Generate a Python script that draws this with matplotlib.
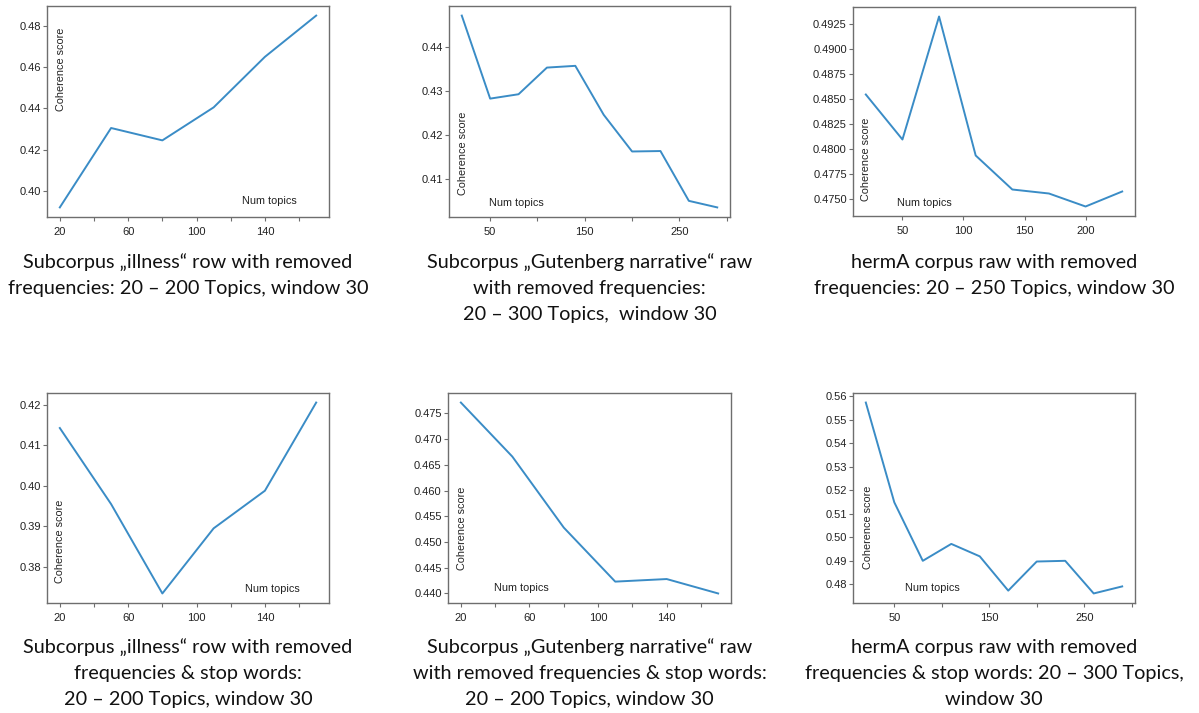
import matplotlib
matplotlib.use("Agg")
import matplotlib.pyplot as plt
from matplotlib.ticker import FormatStrFormatter

# ---------------- data ----------------
x_p1 = [20, 50, 80, 110, 140, 170]
y_p1 = [0.392, 0.4305, 0.4245, 0.4405, 0.465, 0.485]

x_p2 = [20, 50, 80, 110, 140, 170, 200, 230, 260, 290]
y_p2 = [0.4473, 0.4283, 0.4293, 0.4354, 0.4358, 0.4246, 0.4162, 0.4163, 0.4049, 0.4034]

x_p3 = [20, 50, 80, 110, 140, 170, 200, 230]
y_p3 = [0.4854, 0.4809, 0.4932, 0.4793, 0.4759, 0.4755, 0.4742, 0.4757]

x_p4 = [20, 50, 80, 110, 140, 170]
y_p4 = [0.4143, 0.3955, 0.3734, 0.3895, 0.3988, 0.4206]

x_p5 = [20, 50, 80, 110, 140, 170]
y_p5 = [0.4771, 0.4666, 0.4528, 0.4423, 0.4428, 0.4400]

x_p6 = [20, 50, 80, 110, 140, 170, 200, 230, 260, 290]
y_p6 = [0.5573, 0.5148, 0.4899, 0.4971, 0.4918, 0.4772, 0.4896, 0.4899, 0.4760, 0.4790]

yticks_p1 = [0.40, 0.42, 0.44, 0.46, 0.48]
yticks_p2 = [0.41, 0.42, 0.43, 0.44]
yticks_p3 = [0.4750, 0.4775, 0.4800, 0.4825, 0.4850, 0.4875, 0.4900, 0.4925]
yticks_p4 = [0.38, 0.39, 0.40, 0.41, 0.42]
yticks_p5 = [0.440, 0.445, 0.450, 0.455, 0.460, 0.465, 0.470, 0.475]
yticks_p6 = [0.48, 0.49, 0.50, 0.51, 0.52, 0.53, 0.54, 0.55, 0.56]

xmajor_p1 = [20, 60, 100, 140]
xminor_p1 = [40, 80, 120, 160]
xmajor_p2 = [50, 150, 250]
xminor_p2 = [100, 200, 300]
xmajor_p3 = [50, 100, 150, 200]
xminor_p3 = []

captions = [
    ["Subcorpus \u201eillness\u201c row with removed",
     "frequencies: 20 \u2013 200 Topics, window 30"],
    ["Subcorpus \u201eGutenberg narrative\u201c raw",
     "with removed frequencies:",
     "20 \u2013 300 Topics,  window 30"],
    ["hermA corpus raw with removed",
     "frequencies: 20 \u2013 250 Topics, window 30"],
    ["Subcorpus \u201eillness\u201c row with removed",
     "frequencies & stop words:",
     "20 \u2013 200 Topics, window 30"],
    ["Subcorpus \u201eGutenberg narrative\u201c raw",
     "with removed frequencies & stop words:",
     "20 \u2013 200 Topics, window 30"],
    ["hermA corpus raw with removed",
     "frequencies & stop words: 20 \u2013 300 Topics,",
     "window 30"],
]

ylabel_text = "Coherence score"
xlabel_text = "Num topics"

# ---------------- layout ----------------
W, H = 1199, 713
fig = plt.figure(figsize=(W / 100, H / 100), dpi=100)
fig.patch.set_facecolor("white")

# pixel boxes: left, right, top, bottom
boxes = [
    (47, 329, 6, 217),
    (449, 730, 6, 217),
    (853, 1135, 7, 216),
    (47, 329, 393, 603),
    (448, 731, 393, 603),
    (853, 1135, 393, 603),
]

panels = [
    (x_p1, y_p1, yticks_p1, "%.2f", xmajor_p1, xminor_p1, (0.050, 0.70), (0.79, 0.076)),
    (x_p2, y_p2, yticks_p2, "%.2f", xmajor_p2, xminor_p2, (0.050, 0.30), (0.24, 0.066)),
    (x_p3, y_p3, yticks_p3, "%.4f", xmajor_p3, xminor_p3, (0.046, 0.27), (0.254, 0.060)),
    (x_p4, y_p4, yticks_p4, "%.2f", xmajor_p1, xminor_p1, (0.046, 0.295), (0.80, 0.067)),
    (x_p5, y_p5, yticks_p5, "%.3f", xmajor_p1, xminor_p1, (0.049, 0.355), (0.258, 0.070)),
    (x_p6, y_p6, yticks_p6, "%.2f", xmajor_p2, xminor_p2, (0.053, 0.36), (0.28, 0.070)),
]

tick_font = "Liberation Sans"
tick_size = 8.0
label_size = 7.8
spine_col = "#6e6e6e"
line_col = "#3a8cc6"

caption_baselines = [[268, 294, 320], [653, 679, 705]]

for i, (box, pan) in enumerate(zip(boxes, panels)):
    l, r, t, b = box
    ax = fig.add_axes([l / W, 1 - b / H, (r - l) / W, (b - t) / H])
    xs, ys, yt, fmt, xmaj, xmin, cpos, npos = pan
    ax.plot(xs, ys, color=line_col, lw=1.4)
    ax.margins(x=0.05, y=0.05)
    ax.set_yticks(yt)
    ax.yaxis.set_major_formatter(FormatStrFormatter(fmt))
    ax.set_xticks(xmaj)
    ax.set_xticks(xmin, minor=True)
    for s in ax.spines.values():
        s.set_color(spine_col)
        s.set_linewidth(1.0)
    ax.tick_params(which="both", direction="out", length=3, width=0.8,
                   color=spine_col, labelsize=tick_size, labelcolor="#222222")
    ax.tick_params(axis="y", pad=1.5)
    ax.tick_params(axis="x", pad=4)
    for lab in ax.get_xticklabels() + ax.get_yticklabels():
        lab.set_fontfamily(tick_font)
    ax.text(cpos[0], cpos[1], ylabel_text, rotation=90, transform=ax.transAxes,
            ha="center", va="center", fontsize=label_size, family=tick_font,
            color="#222222")
    ax.text(npos[0], npos[1], xlabel_text, transform=ax.transAxes,
            ha="center", va="center", fontsize=label_size, family=tick_font,
            color="#222222")

    cx = (l + r) / 2
    row = 0 if i < 3 else 1
    for j, line in enumerate(captions[i]):
        yb = caption_baselines[row][j]
        fig.text(cx / W, 1 - yb / H, line, ha="center", va="baseline",
                 fontsize=14.3, family="Lato", color="#111111")

fig.savefig("out.png", dpi=100, facecolor="white")
